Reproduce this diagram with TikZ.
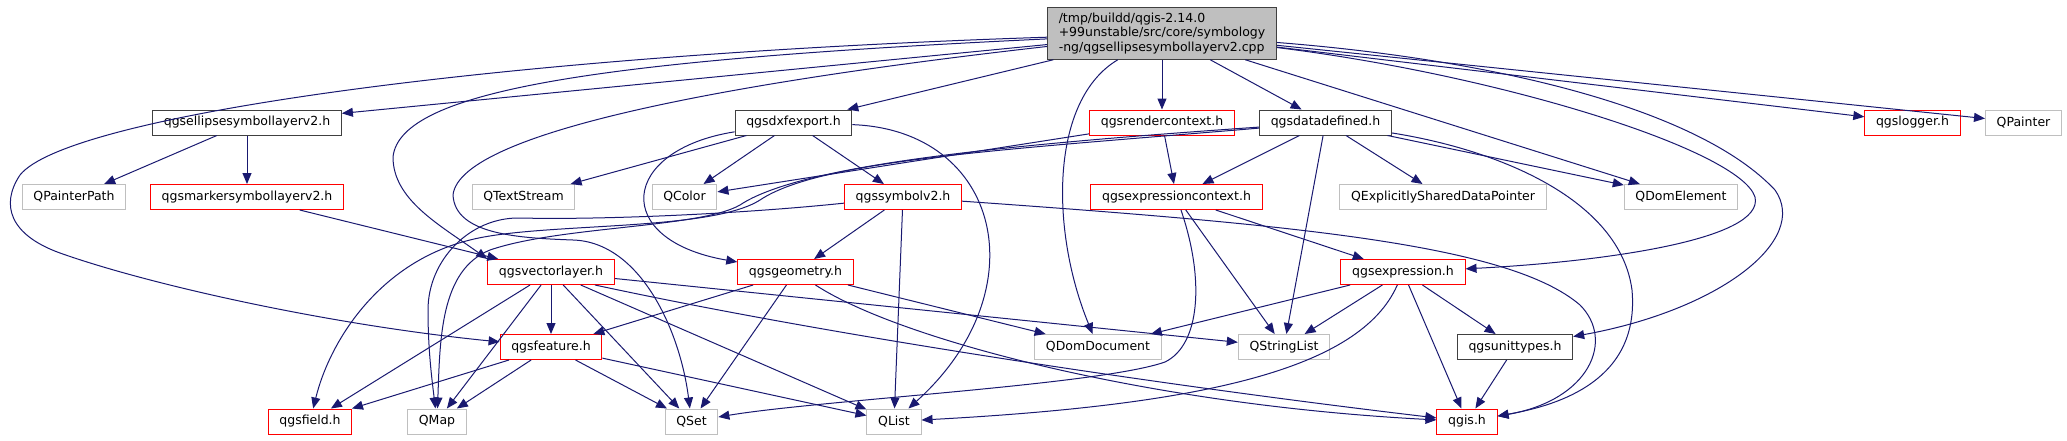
\documentclass[tikz,border=0pt]{standalone}
\usepackage{fontspec}
\setmainfont{DejaVu Sans}
\usepackage{tikz}
\usetikzlibrary{arrows.meta}
\definecolor{edgeblue}{HTML}{191970}
\definecolor{boxgray}{HTML}{BFBFBF}
\definecolor{rootline}{HTML}{404040}

\begin{document}
\begin{tikzpicture}[
    x=1pt, y=-1pt,
    file/.style={rectangle, draw=rootline, line width=1pt, fill=white, font=\fontsize{12.5}{14.7}\selectfont, inner xsep=11.2pt, inner ysep=5pt, minimum height=25pt},
    rootfile/.style={file, draw=rootline, fill=boxgray, align=left},
    trunc/.style={file, draw=red},
    extern/.style={file, draw=boxgray},
    arrow/.style={-{Triangle[length=11pt, width=9pt]}, draw=edgeblue, line width=1pt}
]
\useasboundingbox (0,0) rectangle (2067,440);

\node[rootfile] (root) at (1162,33.5) {/tmp/buildd/qgis-2.14.0\\+99unstable/src/core/symbology\\-ng/qgsellipsesymbollayerv2.cpp};
\node[file] (ellipse) at (247,122.5) {qgsellipsesymbollayerv2.h};
\node[file] (dxf) at (793.5,122.5) {qgsdxfexport.h};
\node[trunc] (render) at (1162,122.5) {qgsrendercontext.h};
\node[file] (datadef) at (1325.5,122.5) {qgsdatadefined.h};
\node[trunc] (logger) at (1912.5,122.5) {qgslogger.h};
\node[extern] (painter) at (2023.5,122.5) {QPainter};
\node[extern] (painterpath) at (74,197) {QPainterPath};
\node[trunc] (marker) at (247,197) {qgsmarkersymbollayerv2.h};
\node[extern] (textstream) at (523.5,197) {QTextStream};
\node[extern] (color) at (684.5,197) {QColor};
\node[trunc] (symbol) at (903,197) {qgssymbolv2.h};
\node[trunc] (exprctx) at (1176.5,197) {qgsexpressioncontext.h};
\node[extern] (sharedptr) at (1443,197) {QExplicitlySharedDataPointer};
\node[extern] (domelement) at (1681,197) {QDomElement};
\node[trunc] (vlayer) at (551,272) {qgsvectorlayer.h};
\node[trunc] (geometry) at (795.5,272) {qgsgeometry.h};
\node[trunc] (expression) at (1403,272) {qgsexpression.h};
\node[trunc] (feature) at (551,347) {qgsfeature.h};
\node[extern] (domdoc) at (1098,347) {QDomDocument};
\node[extern] (stringlist) at (1284,347) {QStringList};
\node[file] (unittypes) at (1515,347) {qgsunittypes.h};
\node[trunc] (field) at (310,421.5) {qgsfield.h};
\node[extern] (qmap) at (437,421.5) {QMap};
\node[extern] (qset) at (691.5,421.5) {QSet};
\node[extern] (qlist) at (894,421.5) {QList};
\node[trunc] (qgis) at (1467,421.5) {qgis.h};

\draw[arrow] (root) -- (ellipse);
\draw[arrow] (root) -- (dxf);
\draw[arrow] (root) -- (render);
\draw[arrow] (root) -- (datadef);
\draw[arrow] (root) -- (logger);
\draw[arrow] (root) -- (painter);
\draw[arrow] (root) -- (domelement);
\draw[arrow] (root) .. controls (1500,75) and (1740,150) .. (1755,197) .. controls (1765,240) and (1600,262) .. (expression);
\draw[arrow] (root) .. controls (1500,60) and (1700,110) .. (1775,190) .. controls (1810,240) and (1720,310) .. (unittypes);
\draw[arrow] (root) .. controls (600,60) and (400,90) .. (393,157) .. controls (393,200) and (440,225) .. (vlayer.north west);
\draw[arrow] (root) .. controls (500,55) and (68,115) .. (20,175) .. controls (0,205) and (10,235) .. (60,253) .. controls (150,285) and (330,325) .. (feature);
\draw[arrow] (root) .. controls (1050,100) and (1050,230) .. (domdoc);
\draw[arrow] (root) .. controls (750,80) and (460,130) .. (453,195) .. controls (455,235) and (520,238) .. (573,240) .. controls (640,242) and (680,330) .. (qset);

\draw[arrow] (ellipse) -- (painterpath);
\draw[arrow] (ellipse) -- (marker);
\draw[arrow] (marker) -- (vlayer);

\draw[arrow] (dxf) -- (textstream);
\draw[arrow] (dxf) -- (color);
\draw[arrow] (dxf) -- (symbol);
\draw[arrow] (dxf) .. controls (620,150) and (610,240) .. (geometry);
\draw[arrow] (dxf) .. controls (1000,130) and (1040,290) .. (qlist);

\draw[arrow] (render) -- (color);
\draw[arrow] (render) -- (exprctx);

\draw[arrow] (datadef) -- (exprctx);
\draw[arrow] (datadef) -- (sharedptr);
\draw[arrow] (datadef) -- (stringlist);
\draw[arrow] (datadef) -- (domelement);
\draw[arrow] (datadef) .. controls (1500,150) and (1620,200) .. (1632,290) .. controls (1640,380) and (1560,405) .. (qgis);
\draw[arrow] (datadef) .. controls (1000,145) and (800,165) .. (740,205) .. controls (700,228) and (560,226) .. (490,250) .. controls (440,270) and (440,340) .. (qmap);
\draw[arrow] (datadef) .. controls (1000,150) and (820,160) .. (760,200) .. controls (710,232) and (540,222) .. (470,240) .. controls (380,262) and (330,340) .. (field);

\draw[arrow] (symbol) -- (geometry);
\draw[arrow] (symbol) -- (qlist);
\draw[arrow] (symbol) .. controls (740,214) and (600,220) .. (520,218) .. controls (470,217) and (428,260) .. (428,310) .. controls (428,350) and (432,380) .. (qmap);
\draw[arrow] (symbol) .. controls (1300,225) and (1510,245) .. (1580,305) .. controls (1615,340) and (1590,400) .. (qgis);

\draw[arrow] (exprctx) -- (expression);
\draw[arrow] (exprctx) -- (stringlist);
\draw[arrow] (exprctx) .. controls (1205,280) and (1200,345) .. (1165,362) .. controls (1100,385) and (820,400) .. (qset);

\draw[arrow] (expression) -- (domdoc);
\draw[arrow] (expression) -- (stringlist);
\draw[arrow] (expression) -- (unittypes);
\draw[arrow] (expression) -- (qgis);
\draw[arrow] (expression) .. controls (1360,370) and (1200,405) .. (qlist);

\draw[arrow] (unittypes) -- (qgis);

\draw[arrow] (vlayer) -- (feature);
\draw[arrow] (vlayer) -- (field);
\draw[arrow] (vlayer) -- (qmap);
\draw[arrow] (vlayer) -- (qset);
\draw[arrow] (vlayer) -- (qlist);
\draw[arrow] (vlayer) -- (stringlist);
\draw[arrow] ([xshift=44pt]vlayer.south) .. controls (850,340) and (1200,390) .. (qgis);

\draw[arrow] (geometry) -- (feature);
\draw[arrow] (geometry) -- (qset);
\draw[arrow] (geometry) -- (domdoc);
\draw[arrow] (geometry) .. controls (900,340) and (1150,405) .. (qgis);

\draw[arrow] (feature) -- (field);
\draw[arrow] (feature) -- (qmap);
\draw[arrow] (feature) -- (qset);
\draw[arrow] (feature) -- (qlist);
\end{tikzpicture}
\end{document}
